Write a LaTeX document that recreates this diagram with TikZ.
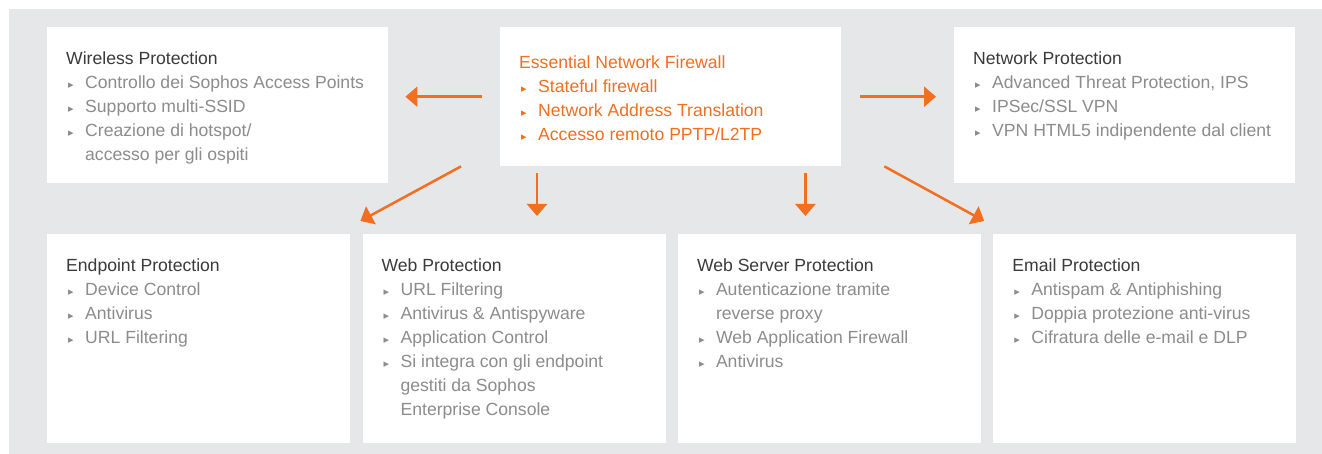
\documentclass[tikz,border=0pt]{standalone}
\usepackage{fontspec}
\setmainfont{Liberation Sans}
\newfontfamily\symfont{DejaVu Sans}
\usetikzlibrary{positioning,arrows.meta}
\definecolor{bggray}{HTML}{E6E7E8}
\definecolor{sophorange}{HTML}{F26E21}
\definecolor{ttlgray}{HTML}{3A3A3A}
\definecolor{itmgray}{HTML}{8C8C8C}
\newcommand{\bul}{\makebox[19pt][l]{\hspace{2pt}\raisebox{0.5pt}{\symfont\fontsize{11}{11}\selectfont ▸}}}
\newcommand{\cont}{\hspace*{19pt}}
\tikzset{
  panel/.style={fill=white, inner sep=0pt, anchor=north west, minimum width=303pt, minimum height=209pt},
  listtxt/.style={anchor=north west, inner sep=0pt, align=left, text=itmgray, font=\fontsize{17.6}{24}\selectfont},
  flow/.style={draw=sophorange, line width=2.5pt, -{Triangle[length=12pt,width=20pt]}},
}
\begin{document}
\begin{tikzpicture}[x=1pt,y=-1pt]
    \useasboundingbox (0,0) rectangle (1322,454);
    \fill[bggray] (9,9) rectangle (1322,454);
    % top row
    \node[panel, minimum width=341pt, minimum height=156pt] (wl) at (47,27) {};
    \node[panel, minimum width=341pt, minimum height=139pt] (fw) at (500,27) {};
    \node[panel, minimum width=341pt, minimum height=156pt] (np) at (954,27) {};
    % bottom row
    \node[panel] (ep) at (47,234) {};
    \node[panel, right=12pt of ep] (wp) {};
    \node[panel, right=12pt of wp] (wsp) {};
    \node[panel, right=12pt of wsp] (em) {};
    % texts
    \node[listtxt] (wl-txt) at ([xshift=19pt,yshift=-25pt]wl.north west)
        {\textcolor{ttlgray}{Wireless Protection}\\
         \bul Controllo dei Sophos Access Points\\
         \bul Supporto multi-SSID\\
         \bul Creazione di hotspot/\\
         \cont accesso per gli ospiti};
    \node[listtxt, text=sophorange] (fw-txt) at ([xshift=19pt,yshift=-29pt]fw.north west)
        {Essential Network Firewall\\
         \bul Stateful firewall\\
         \bul Network Address Translation\\
         \bul Accesso remoto PPTP/L2TP};
    \node[listtxt] (np-txt) at ([xshift=19pt,yshift=-25pt]np.north west)
        {\textcolor{ttlgray}{Network Protection}\\
         \bul Advanced Threat Protection, IPS\\
         \bul IPSec/SSL VPN\\
         \bul VPN HTML5 indipendente dal client};
    \node[listtxt] (ep-txt) at ([xshift=19pt,yshift=-25pt]ep.north west)
        {\textcolor{ttlgray}{Endpoint Protection}\\
         \bul Device Control\\
         \bul Antivirus\\
         \bul URL Filtering};
    \node[listtxt] (wp-txt) at ([xshift=19pt,yshift=-25pt]wp.north west)
        {\textcolor{ttlgray}{Web Protection}\\
         \bul URL Filtering\\
         \bul Antivirus \& Antispyware\\
         \bul Application Control\\
         \bul Si integra con gli endpoint\\
         \cont gestiti da Sophos\\
         \cont Enterprise Console};
    \node[listtxt] (wsp-txt) at ([xshift=19pt,yshift=-25pt]wsp.north west)
        {\textcolor{ttlgray}{Web Server Protection}\\
         \bul Autenticazione tramite\\
         \cont reverse proxy\\
         \bul Web Application Firewall\\
         \bul Antivirus};
    \node[listtxt] (em-txt) at ([xshift=19pt,yshift=-25pt]em.north west)
        {\textcolor{ttlgray}{Email Protection}\\
         \bul Antispam \& Antiphishing\\
         \bul Doppia protezione anti-virus\\
         \bul Cifratura delle e-mail e DLP};
    % arrows
    \draw[flow, shorten <=18pt, shorten >=17pt] (fw.west) -- (fw.west -| wl.east);
    \draw[flow, shorten <=19pt, shorten >=18pt] (fw.east) -- (fw.east -| np.west);
    \draw[flow] ([xshift=-39pt]fw.south west) -- ([xshift=10pt,yshift=13pt]ep.north east);
    \draw[flow, shorten <=7pt, shorten >=18pt] ([xshift=37pt]fw.south west) -- ([xshift=37pt]fw.south west |- wp.north);
    \draw[flow, shorten <=7pt, shorten >=18pt] ([xshift=-36pt]fw.south east) -- ([xshift=-36pt]fw.south east |- wsp.north);
    \draw[flow] ([xshift=43pt]fw.south east) -- ([xshift=-9pt,yshift=13pt]em.north west);
\end{tikzpicture}
\end{document}
